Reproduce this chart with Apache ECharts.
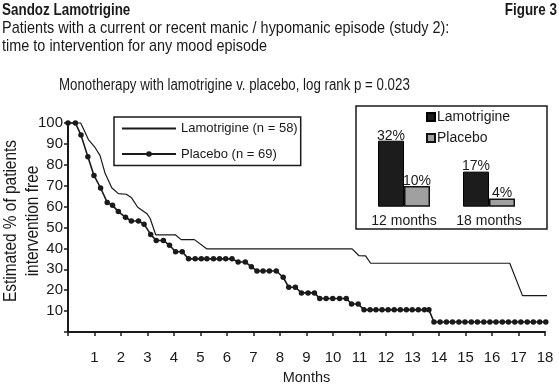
<!DOCTYPE html>
<html>
<head>
<meta charset="utf-8">
<script src="https://cdn.jsdelivr.net/npm/echarts@6/dist/echarts.min.js"></script>
<style>
html,body{margin:0;padding:0;background:#fff;}
#chart{width:559px;height:390px;}
</style>
</head>
<body>
<div id="chart"></div>
<script>
// ---- data ----
const lamoMonths = [0, 0.48, 0.77, 1.02, 1.21, 1.40, 1.65, 1.90, 2.20, 2.40, 2.63, 2.98, 3.10, 3.31, 4.05, 4.27, 4.77, 5.23, 10.72, 10.98, 11.23, 11.42, 16.67, 17.15, 18.54];
const lamoPct    = [100, 100, 92.1, 88.3, 84.4, 75.9, 69.0, 66.2, 65.9, 64.2, 59.7, 56.6, 54.3, 46.5, 46.5, 44.2, 44.2, 39.8, 39.8, 36.5, 36.4, 32.9, 32.9, 17.4, 17.4];

const placeboMonths = [0, 0.28, 0.49, 0.75, 0.98, 1.23, 1.48, 1.68, 1.90, 2.17, 2.39, 2.66, 2.87, 3.12, 3.33, 3.60, 3.83, 4.06, 4.31,
  4.55, 4.80, 5.03, 5.24, 5.49, 5.72, 5.95, 6.19, 6.42, 6.69, 6.92, 7.13, 7.36, 7.60, 7.86, 8.12, 8.33, 8.58, 8.81, 9.06, 9.30,
  9.50, 9.74, 9.99, 10.25, 10.50, 10.70, 10.95, 11.17, 11.40, 11.62, 11.85, 12.08, 12.31, 12.54, 12.77, 12.99, 13.22, 13.45, 13.62,
  13.81, 14.04, 14.28, 14.51, 14.75, 14.98, 15.22, 15.45, 15.69, 15.92, 16.15, 16.39, 16.62, 16.86, 17.09, 17.33, 17.56, 17.80, 18.03, 18.50];
const placeboPct = [100, 100, 94.2, 83.9, 74.9, 68.9, 62.0, 60.6, 57.6, 54.9, 53.1, 53.1, 51.6, 46.7, 43.8, 43.8, 41.5, 38.4, 38.4,
  35.0, 35.0, 35.0, 35.0, 35.0, 35.0, 35.0, 35.0, 33.5, 33.5, 31.2, 29.2, 29.2, 29.2, 29.2, 26.2, 21.4, 21.4, 18.7, 18.7, 18.7,
  16.0, 16.0, 16.0, 16.0, 16.0, 13.4, 13.4, 10.6, 10.6, 10.6, 10.6, 10.6, 10.6, 10.6, 10.6, 10.6, 10.6, 10.6, 10.6,
  4.8, 4.8, 4.8, 4.8, 4.8, 4.8, 4.8, 4.8, 4.8, 4.8, 4.8, 4.8, 4.8, 4.8, 4.8, 4.8, 4.8, 4.8, 4.8, 4.8];

const insetCategories = ['12 months', '18 months'];
const insetLamo = [32, 17];
const insetPlacebo = [10, 4];

const lineNames = ['Lamotrigine (n = 58)', 'Placebo (n = 69)'];
const barNames = ['Lamotrigine', 'Placebo'];

const titleText = 'Sandoz Lamotrigine';
const figureText = 'Figure 3';
const subtitleText = 'Patients with a current or recent manic / hypomanic episode (study 2):\ntime to intervention for any mood episode';
const noteText = 'Monotherapy with lamotrigine v. placebo, log rank p = 0.023';
const yNameText = 'Estimated % of patients\nintervention free';
const xNameText = 'Months';

// ---- build ----
const FF = "'Liberation Sans', Arial, sans-serif";
const INK = '#1a1a1a';

const lamoData = lamoMonths.map((m, i) => [m, lamoPct[i]]);
const placeboData = placeboMonths.map((m, i) => {
  const pt = { value: [m, placeboPct[i]] };
  if (i === placeboMonths.length - 1) pt.symbol = 'none';
  return pt;
});

const chart = echarts.init(document.getElementById('chart'), null, { renderer: 'canvas' });
chart.setOption({
  animation: false,
  backgroundColor: '#fff',
  textStyle: { fontFamily: FF, color: INK },
  legend: [
    {
      data: [{ name: lineNames[0], itemStyle: { opacity: 0 } }, { name: lineNames[1] }],
      orient: 'vertical', left: 114, top: 117,
      padding: [5, 3, 5, 7],
      itemWidth: 54, itemHeight: 7, itemGap: 12.5,
      borderColor: INK, borderWidth: 1.5,
      textStyle: { fontFamily: FF, fontSize: 13, color: INK }
    },
    {
      data: barNames,
      orient: 'vertical', left: 426, top: 110,
      padding: 0,
      itemWidth: 8, itemHeight: 8, itemGap: 7,
      icon: 'rect',
      textStyle: { fontFamily: FF, fontSize: 14, color: INK, padding: [0, 0, 0, -3] }
    }
  ],
  grid: [
    { left: 68, right: 14, top: 123, bottom: 51, containLabel: false },
    { left: 361.5, right: 27.5, top: 140.7, bottom: 183.3, containLabel: false }
  ],
  xAxis: [
    {
      gridIndex: 0, type: 'value', min: 0, max: 18, interval: 1,
      name: xNameText, nameLocation: 'middle', nameGap: 38,
      nameTextStyle: { fontFamily: FF, fontSize: 14.5, color: INK },
      axisLine: { lineStyle: { color: INK, width: 2 } },
      axisTick: { show: true, length: 4, lineStyle: { color: INK, width: 1.5 } },
      axisLabel: { margin: 18, fontFamily: FF, fontSize: 15, color: INK, formatter: v => (v === 0 ? '' : String(v)) },
      splitLine: { show: false }
    },
    {
      gridIndex: 1, type: 'category', data: insetCategories,
      axisLine: { show: false }, axisTick: { show: false },
      axisLabel: { interval: 0, margin: 7, fontFamily: FF, fontSize: 14, color: INK },
      splitLine: { show: false }
    }
  ],
  yAxis: [
    {
      gridIndex: 0, type: 'value', min: 0, max: 100, interval: 10,
      axisLine: { show: true, lineStyle: { color: INK, width: 2 } },
      axisTick: { show: true, length: 4, lineStyle: { color: INK, width: 1.5 } },
      axisLabel: { margin: 5, fontFamily: FF, fontSize: 15, color: INK, formatter: v => (v === 0 ? '' : String(v)) },
      splitLine: { show: false }
    },
    {
      gridIndex: 1, type: 'value', min: 0, max: 32, show: false, splitLine: { show: false }
    }
  ],
  graphic: [
    {
      type: 'text', x: 2, y: 10, scaleX: 0.79,
      style: { text: titleText, font: 'bold 17px ' + FF, fill: INK, textAlign: 'left', textVerticalAlign: 'middle' }
    },
    {
      type: 'text', x: 557, y: 10, scaleX: 0.79,
      style: { text: figureText, font: 'bold 17px ' + FF, fill: INK, textAlign: 'right', textVerticalAlign: 'middle' }
    },
    {
      type: 'text', x: 2, y: 19, scaleX: 0.85,
      style: { text: subtitleText, font: '17px ' + FF, fill: INK, textAlign: 'left', textVerticalAlign: 'top', lineHeight: 18 }
    },
    {
      type: 'text', x: 59, y: 86, scaleX: 0.83,
      style: { text: noteText, font: '16px ' + FF, fill: INK, textAlign: 'left', textVerticalAlign: 'middle' }
    },
    {
      type: 'text', rotation: Math.PI / 2, x: 22, y: 221, scaleX: 0.857,
      style: { text: yNameText, font: '18px ' + FF, fill: INK, textAlign: 'center', textVerticalAlign: 'middle', lineHeight: 22 }
    },
    {
      type: 'rect', shape: { x: 356, y: 106, width: 191, height: 123 },
      style: { fill: 'none', stroke: INK, lineWidth: 1.5 }, z: 10
    }
  ],
  series: [
    {
      name: lineNames[0], type: 'line', xAxisIndex: 0, yAxisIndex: 0,
      data: lamoData, symbol: 'none', clip: false,
      lineStyle: { color: INK, width: 1.2 }, itemStyle: { color: INK }
    },
    {
      name: lineNames[1], type: 'line', xAxisIndex: 0, yAxisIndex: 0,
      data: placeboData, symbol: 'circle', symbolSize: 5.5, showAllSymbol: true, clip: false,
      lineStyle: { color: INK, width: 1.6 }, itemStyle: { color: INK }
    },
    {
      name: barNames[0], type: 'bar', xAxisIndex: 1, yAxisIndex: 1,
      data: insetLamo, barWidth: 26, barGap: '0%',
      itemStyle: { color: '#1c1c1c', borderColor: '#000', borderWidth: 1 },
      label: { show: true, position: 'top', distance: -2, formatter: '{c}%', fontFamily: FF, fontSize: 14, color: INK }
    },
    {
      name: barNames[1], type: 'bar', xAxisIndex: 1, yAxisIndex: 1,
      data: insetPlacebo, barWidth: 26, barGap: '0%',
      itemStyle: { color: '#a0a0a0', borderColor: '#111', borderWidth: 1.5 },
      label: { show: true, position: 'top', distance: -2, formatter: '{c}%', fontFamily: FF, fontSize: 14, color: INK }
    }
  ]
});
</script>
</body>
</html>
